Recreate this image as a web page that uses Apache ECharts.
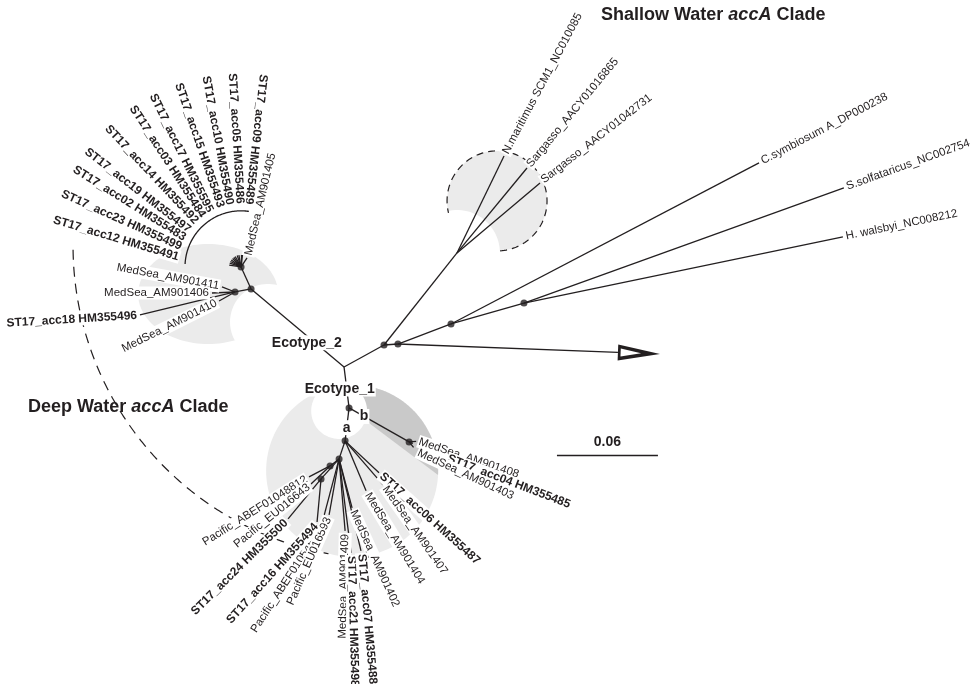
<!DOCTYPE html>
<html><head><meta charset="utf-8">
<script src="https://cdn.jsdelivr.net/npm/echarts@6/dist/echarts.min.js"></script>
<style>html,body{margin:0;padding:0;background:#fff;}#chart{width:970px;height:684px;}</style>
</head><body><div id="chart"></div>
<script>
// ---------------- tree data (branch lengths in substitutions / site, directions in degrees) ----------------
const internalNames   = ['C0','E2','E2a','F','N1','A','B','A1','A2','A3','R1','SH','R2','R3','R4'];
const internalParents = [null,'C0','E2','E2','C0','N1','N1','A','A1','A1','C0','R1','R1','R2','R3'];
const internalLengths = [0,0.0721,0.0097,0.0144,0.0245,0.0197,0.0410,0.0113,0.0068,0.0160,0.0271,0.0698,0.0083,0.0337,0.0451];
const internalAngles  = [0,140.0,-169.4,114.4,-83.0,-96.9,-29.5,-108.4,-142.1,-132.0,28.8,51.6,4.1,20.7,16.0];
const supportedNodes  = ['E2','E2a','F','N1','A','B','A1','A2','A3','R1','R2','R3','R4'];

const leafNames = [
 'ST17_acc09 HM355489','ST17_acc05 HM355486','ST17_acc10 HM355490','ST17_acc15 HM355493','ST17_acc17 HM355595',
 'ST17_acc03 HM355484','ST17_acc14 HM355492','ST17_acc19 HM355497','ST17_acc02 HM355483','ST17_acc23 HM355499',
 'ST17_acc12 HM355491','MedSea_AM901405','MedSea_AM901411','MedSea_AM901406','ST17_acc18 HM355496','MedSea_AM901410',
 'N.maritimus SCM1_NC010085','Sargasso_AACY01016865','Sargasso_AACY01042731',
 'C.symbiosum A_DP000238','S.solfataricus_NC002754','H. walsbyi_NC008212',
 'ST17_acc06 HM355487','MedSea_AM901407','MedSea_AM901404','MedSea_AM901402','MedSea_AM901409',
 'ST17_acc21 HM355498','ST17_acc07 HM355488','Pacific_ABEF01054507','Pacific_EU016593',
 'Pacific_ABEF01048812','Pacific_EU016643','ST17_acc24 HM355500','ST17_acc16 HM355494',
 'MedSea_AM901408','ST17_acc04 HM355485','MedSea_AM901403'];
const leafParents = ['F','F','F','F','F','F','F','F','F','F','F','F','E2a','E2a','E2a','E2a',
 'SH','SH','SH','R3','R4','R4','A','A','A','A1','A1','A1','A1','A1','A1','A2','A2','A3','A3','B','B','B'];
const leafLengths = [0.0071,0.0071,0.0071,0.0071,0.0071,0.0071,0.0071,0.0071,0.0071,0.0071,0.0071,0.0064,
 0.0083,0.0137,0.0581,0.0109,0.0640,0.0654,0.0645,0.2065,0.2020,0.1935,
 0.0277,0.0345,0.0322,0.0301,0.0429,0.0563,0.0562,0.0418,0.0338,0.0141,0.0156,0.0308,0.0257,0.0042,0.0024,0.0042];
const leafAngles = [83.3,91.0,100.4,108.7,119.4,127.2,135.0,145.0,153.0,161.8,171.4,56.3,
 159.0,182.5,193.6,209.4,64.1,50.5,40.1,27.6,19.8,11.7,
 -43.3,-49.2,-67.2,-75.1,-85.2,-82.7,-76.6,-104.8,-100.1,-152.4,-136.5,-129.5,-95.3,5.0,-22.8,-51.0];
const leafBold = [1,1,1,1,1,1,1,1,1,1,1,0,0,0,1,0,0,0,0,0,0,0,1,0,0,0,0,1,1,0,0,0,0,1,1,0,1,0];
const leafReading = ['i','i','i','i','i','i','i','i','i','i','i','o','i','i','i','i','o','o','o','o','o','o',
 'o','o','o','o','i','o','o','i','i','i','i','i','i','o','o','o'];
const leafLabelAngles = [-96.5,-86.6,-79.5,-71.0,-63.8,-57.2,-46.8,-37.8,-32.1,-24.2,-16.7,76.8,
 -10.3,0,3.5,26.6,62,null,38,null,null,null,
 -42,-55,-58.6,-65.6,88.4,-88.6,-85,56.9,66.2,32.2,39,44.7,48,-18.5,-21,-25];
const leafLabelGaps = [0.0298,0.0298,0.0298,0.0298,0.0298,0.0298,0.0298,0.0298,0.0298,0.0298,0.0298,null,
 null,null,null,null,null,null,null,null,null,null,
 null,null,null,null,null,null,null,null,null,null,null,null,null,null,0.0220,0.0034];

const collapsed = {parent:'R2', length:0.1558, angle:-2.2, head:0.025};
const scaleBar = {x:0.1265, y:-0.0523, len:0.06, label:'0.06'};
const edgeLabels = [
 {text:'Ecotype_2', node:'E2', t:0.40, dx:0, dy:7},
 {text:'Ecotype_1', node:'N1', t:0.54, dx:-7, dy:0},
 {text:'a', node:'A', t:0.6, dx:0, dy:0},
 {text:'b', node:'B', t:0.25, dx:0, dy:0}
];

// ---------------- layout / style ----------------
const FONT = '"Liberation Sans", Arial, Helvetica, sans-serif';
const INK = '#231f20', LIGHT = '#ebebeb', DARK = '#c9c9c9';
const view = {xMin:-0.2044, xMax:0.3719, yMin:-0.1883, yMax:0.2180};
const shade = {
  shallow:{node:'SH', off:[0.0238,0.0309], r:0.0297, biteR:0.0255, dashFrom:-86.5, dashTo:193.8},
  eco2:{node:'E2', off:[-0.0255,-0.0030], rx:0.0416, ry:0.0297, biteOff:[0.0101,-0.0196], biteR:0.0226},
  deep:{node:'A', off:[0.0042,-0.0178], r:0.0511, biteNode:'N1', biteOff:[-0.0059,-0.0018], biteR:0.0166, darkFrom:-37, darkTo:70}
};
const deepArc = {off:[0.0250,0.0719], r:0.1860, from:180.7, to:259.4};
const bracket = {node:'F', r:0.0333, from:82, to:177};

function rad(a){return a*Math.PI/180;}
function unit(a){return [Math.cos(rad(a)), Math.sin(rad(a))];}
function add(p,v,s){return [p[0]+v[0]*s, p[1]+v[1]*s];}

const pos = {};
internalNames.forEach((n,i)=>{const par=internalParents[i]; pos[n]= par ? add(pos[par], unit(internalAngles[i]), internalLengths[i]) : [0,0];});
const edges = [];
internalNames.forEach((n,i)=>{ if(internalParents[i]) edges.push([pos[internalParents[i]], pos[n]]); });
const tips = leafNames.map((n,i)=>add(pos[leafParents[i]], unit(leafAngles[i]), leafLengths[i]));
leafNames.forEach((n,i)=>edges.push([pos[leafParents[i]], tips[i]]));
const aDir = unit(collapsed.angle);
const aBase = add(pos[collapsed.parent], aDir, collapsed.length - collapsed.head);
const aTip = add(pos[collapsed.parent], aDir, collapsed.length);
edges.push([pos[collapsed.parent], aBase]);
edges.push([[scaleBar.x, scaleBar.y],[scaleBar.x+scaleBar.len, scaleBar.y]]);

function norm(a){while(a>180)a-=360;while(a<=-180)a+=360;return a;}
const labels = leafNames.map((n,i)=>{
  const gap = leafLabelGaps[i]==null ? 0.0012 : leafLabelGaps[i];
  const at = add(tips[i], unit(leafAngles[i]), gap);
  let rot = leafLabelAngles[i];
  if(rot==null) rot = leafReading[i]==='o' ? leafAngles[i] : leafAngles[i]+180;
  return {text:n, at, rot:norm(rot), align:leafReading[i]==='o'?'left':'right', bold:leafBold[i], size:leafBold[i]?12:11.5, bg:true};
});
edgeLabels.forEach(l=>{
  const i=internalNames.indexOf(l.node); const p0=pos[internalParents[i]], p1=pos[l.node];
  labels.push({text:l.text, at:[p0[0]+(p1[0]-p0[0])*l.t, p0[1]+(p1[1]-p0[1])*l.t], rot:0, align:'center', bold:1, size:14, bg:true, dx:l.dx, dy:l.dy});
});
labels.push({text:scaleBar.label, at:[scaleBar.x+scaleBar.len/2, scaleBar.y], rot:0, align:'center', bold:1, size:14, bg:false, dx:0, dy:-13});

function arcPts(api, c, rx, ry, a0, a1, n){
  const pts=[]; for(let k=0;k<=n;k++){const a=rad(a0+(a1-a0)*k/n); pts.push(api.coord([c[0]+rx*Math.cos(a), c[1]+ry*Math.sin(a)]));} return pts;
}
function renderDecor(params, api){
  const ch=[];
  const s=shade.shallow, sc=add(pos[s.node], s.off, 1);
  const e=shade.eco2, ec=add(pos[e.node], e.off, 1);
  const d=shade.deep, dc=add(pos[d.node], d.off, 1);
  ch.push({type:'polygon', shape:{points:arcPts(api, sc, s.r, s.r, 0, 360, 120)}, style:{fill:LIGHT}});
  ch.push({type:'polygon', shape:{points:arcPts(api, ec, e.rx, e.ry, 0, 360, 120)}, style:{fill:LIGHT}});
  ch.push({type:'polygon', shape:{points:arcPts(api, dc, d.r, d.r, 0, 360, 160)}, style:{fill:LIGHT}});
  const o=pos['N1'], pts=[api.coord(o)];
  for(let a=d.darkFrom; a<=d.darkTo+1e-9; a+=1){
    const u=unit(a), w=[o[0]-dc[0], o[1]-dc[1]];
    const b=u[0]*w[0]+u[1]*w[1], cc=w[0]*w[0]+w[1]*w[1]-d.r*d.r;
    const t=-b+Math.sqrt(b*b-cc); pts.push(api.coord(add(o,u,t)));
  }
  ch.push({type:'polygon', shape:{points:pts}, style:{fill:DARK}});
  ch.push({type:'polygon', shape:{points:arcPts(api, pos[s.node], s.biteR, s.biteR, 0, 360, 90)}, style:{fill:'#fff'}});
  ch.push({type:'polygon', shape:{points:arcPts(api, add(pos[e.node], e.biteOff,1), e.biteR, e.biteR, 0, 360, 90)}, style:{fill:'#fff'}});
  ch.push({type:'polygon', shape:{points:arcPts(api, add(pos[d.biteNode], d.biteOff,1), d.biteR, d.biteR, 0, 360, 90)}, style:{fill:'#fff'}});
  ch.push({type:'polyline', shape:{points:arcPts(api, sc, s.r, s.r, s.dashFrom, s.dashTo, 120)}, style:{stroke:INK, lineWidth:1.2, lineDash:[7,5], fill:null}});
  ch.push({type:'polyline', shape:{points:arcPts(api, deepArc.off, deepArc.r, deepArc.r, deepArc.from, deepArc.to, 200)}, style:{stroke:INK, lineWidth:1.2, lineDash:[10,7], fill:null}});
  ch.push({type:'polyline', shape:{points:arcPts(api, pos[bracket.node], bracket.r, bracket.r, bracket.from, bracket.to, 80)}, style:{stroke:INK, lineWidth:1.3, fill:null}});
  return {type:'group', children:ch};
}
function renderArrow(params, api){
  const n=[-aDir[1], aDir[0]];
  const w=0.0048;
  const outer=[api.coord(add(aBase,n,w)), api.coord(aTip), api.coord(add(aBase,n,-w))];
  const ib=add(aBase,aDir,0.0016);
  const inner=[api.coord(add(ib,n,w*0.5)), api.coord(add(aBase,aDir,collapsed.head*0.55)), api.coord(add(ib,n,-w*0.5))];
  return {type:'group', children:[{type:'polygon', shape:{points:outer}, style:{fill:INK}},{type:'polygon', shape:{points:inner}, style:{fill:'#fff'}}]};
}
function renderLabel(params, api){
  const L=labels[params.dataIndex]; const p=api.coord(L.at);
  return {type:'text', x:p[0]+(L.dx||0), y:p[1]+(L.dy||0), rotation:rad(L.rot),
    style:{text:L.text, align:L.align, verticalAlign:'middle', fontFamily:FONT, fontSize:L.size,
      fontWeight:L.bold?'bold':'normal', fill:INK, backgroundColor:L.bg?'#fff':null, padding:[1,1,0,1]}};
}

const chart = echarts.init(document.getElementById('chart'), null, {renderer:'canvas'});
const rich = {b:{fontFamily:FONT, fontSize:18, fontWeight:'bold', color:INK}, i:{fontFamily:FONT, fontSize:18, fontWeight:'bold', fontStyle:'italic', color:INK}};
chart.setOption({
  animation:false, backgroundColor:'#fff',
  title:[
    {text:'{b|Shallow Water }{i|accA}{b| Clade}', left:601, top:6, padding:0, textStyle:{rich}},
    {text:'{b|Deep Water }{i|accA}{b| Clade}', left:28, top:398, padding:0, textStyle:{rich}}
  ],
  grid:{left:0,right:0,top:0,bottom:0},
  xAxis:{type:'value', min:view.xMin, max:view.xMax, show:false},
  yAxis:{type:'value', min:view.yMin, max:view.yMax, show:false},
  series:[
    {type:'custom', z:1, silent:true, clip:false, renderItem:renderDecor, data:[[0,0]]},
    {type:'lines', coordinateSystem:'cartesian2d', z:2, silent:true, symbol:'none',
      lineStyle:{color:INK, width:1.3, opacity:1}, data:edges.map(c=>({coords:c}))},
    {type:'custom', z:3, silent:true, clip:false, renderItem:renderArrow, data:[aTip]},
    {type:'scatter', z:4, silent:true, symbolSize:7, itemStyle:{color:INK}, data:supportedNodes.map(n=>pos[n])},
    {type:'custom', z:5, silent:true, clip:false, renderItem:renderLabel, data:labels.map(l=>l.at)}
  ]
});
</script></body></html>
